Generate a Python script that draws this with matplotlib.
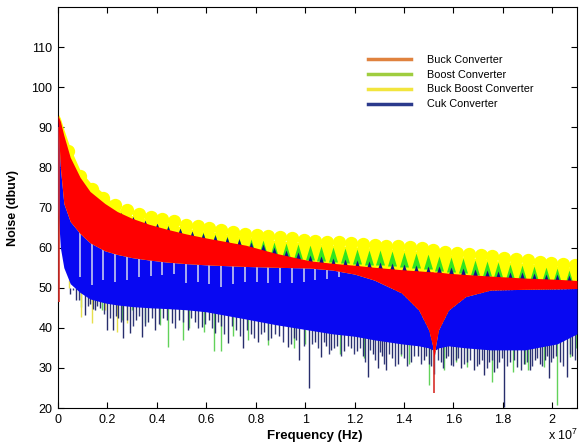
"""
Espectro de ruido conduzido dos quatro conversores (Buck, Boost, Buck-Boost, Cuk).
Gera out.png.
"""
import numpy as np
import matplotlib
matplotlib.use("Agg")
import matplotlib.pyplot as plt
from matplotlib.lines import Line2D

plt.rcParams["font.family"] = ["Liberation Sans", "DejaVu Sans"]
plt.rcParams["mathtext.default"] = "regular"

# --- envelopes (frequencia em MHz, nivel em dBuV) ---
ENV_MHZ = [0, 0.1, 0.24, 0.5, 0.9, 1.3, 1.9, 2.4, 3.0, 3.7, 4.4, 5.2, 6.0, 7.6, 8.8,
           10.2, 11.1, 12.0, 12.8, 13.9, 14.6, 15.0, 15.16, 15.22, 15.28, 15.4, 15.8,
           16.5, 17.5, 18.9, 20.2, 21.0]
BUCK_TOP = [93.0, 91.5, 88.0, 82.5, 77.5, 74.0, 71.0, 69.0, 67.3, 65.8, 64.6, 63.4, 62.4,
            60.6, 58.6, 56.7, 56.1, 55.6, 55.1, 54.5, 54.2, 54.0, 54.0, 53.9, 53.9, 53.9,
            53.6, 53.3, 52.9, 52.4, 52.1, 51.8]
BUCK_LOW = [92.0, 80.0, 71.0, 66.5, 63.5, 61.2, 59.2, 58.3, 57.5, 56.9, 56.4, 56.0, 55.7,
            55.3, 55.1, 54.9, 54.4, 53.4, 51.9, 48.7, 44.4, 39.5, 35.5, 32.5, 35.5, 39.5,
            44.4, 47.8, 49.4, 49.6, 49.7, 49.8]
CUK_LOW = [70.0, 60.0, 55.0, 51.0, 48.8, 47.2, 46.2, 45.7, 45.3, 45.0, 44.8, 44.5, 44.0,
           42.2, 40.8, 39.4, 38.5, 37.9, 37.0, 36.0, 35.5, 35.0, 34.5, 34.3, 34.5, 35.0,
           35.5, 35.0, 34.5, 34.5, 36.0, 38.5]
BUCKBOOST_BAND = [93.5, 92.3, 89.5, 84.8, 79.3, 76.3, 73.3, 69.8, 68.0, 66.9, 66.2, 64.8,
                  64.1, 62.7, 61.8, 61.0, 60.6, 60.2, 59.9, 59.5, 59.1, 58.8, 58.7, 58.6,
                  58.6, 58.5, 58.2, 57.6, 56.9, 56.1, 55.3, 54.8]

# --- picos harmonicos ---
BUCKBOOST_PEAK_MHZ = [0.41, 0.88, 1.36, 1.84, 2.32, 2.79, 3.27, 3.75, 4.22, 4.70, 5.18,
                      5.65, 6.13, 6.61, 7.09, 7.56, 8.04, 8.52, 8.99, 9.47, 9.95, 10.42,
                      10.90, 11.38, 11.86, 12.33, 12.81, 13.29, 13.76, 14.24, 14.72, 15.19,
                      15.67, 16.15, 16.63, 17.10, 17.58, 18.06, 18.53, 19.01, 19.49, 19.96,
                      20.44, 20.92]
BUCKBOOST_PEAK_DB = [84.0, 77.8, 74.6, 72.3, 70.6, 69.3, 68.3, 67.7, 67.2, 66.6, 65.6,
                     65.3, 64.9, 64.4, 63.8, 63.5, 63.2, 62.9, 62.6, 62.3, 62.0, 61.7,
                     61.5, 61.3, 61.1, 60.9, 60.7, 60.5, 60.3, 60.1, 59.9, 59.3, 59.0,
                     58.7, 58.4, 58.1, 57.8, 57.5, 57.1, 56.8, 56.5, 56.2, 55.9, 55.6]
VALLEY_MHZ = [0.65, 1.12, 1.60, 2.08, 2.55, 3.03, 3.51, 3.99, 4.46, 4.94, 5.42, 5.89,
              6.37, 6.85, 7.32, 7.80, 8.28, 8.75, 9.23, 9.71, 10.19, 10.66, 11.14, 11.62,
              12.10, 12.57, 13.05, 13.52, 14.00, 14.48, 14.96, 15.43, 15.91, 16.39, 16.87,
              17.34, 17.82, 18.29, 18.77, 19.25, 19.73, 20.20, 20.68]
BOOST_PEAK_DB = [79.5, 74.5, 71.7, 69.9, 68.6, 67.5, 66.7, 66.2, 65.6, 64.8, 64.2, 63.8,
                 63.4, 62.8, 62.4, 62.1, 61.8, 61.5, 61.2, 60.9, 60.6, 60.3, 60.1, 59.9,
                 59.7, 59.5, 59.3, 59.1, 58.9, 58.7, 58.3, 57.9, 57.6, 57.3, 57.0, 56.7,
                 56.4, 56.0, 55.7, 55.4, 55.1, 54.8, 54.5]
CUK_PEAK_DB = [79.0, 74.5, 71.5, 69.8, 68.8, 67.9, 67.0, 66.2, 65.5, 64.8, 64.2, 63.6,
               63.1, 62.6, 62.1, 61.5, 60.9, 60.1, 59.4, 58.8, 58.1, 57.8, 57.5, 57.2,
               57.0, 56.7, 56.4, 56.1, 55.9, 55.7, 55.5, 55.3, 55.1, 54.9, 54.6, 54.4,
               54.2, 54.0, 53.8, 53.6, 53.4, 53.3, 53.1]

# vales do Cuk logo abaixo da faixa do Buck
GAP_MHZ = [0.88, 1.36, 1.84, 2.32, 2.79, 3.27, 3.75, 4.22, 4.70, 5.18, 5.65, 6.13, 6.61,
           7.09, 7.56, 8.04, 8.52, 8.99, 9.47, 9.95, 10.42, 10.90, 11.38]
GAP_LOW_DB = [52.7, 50.8, 51.9, 51.5, 52.0, 52.7, 53.0, 53.2, 53.5, 51.1, 51.5, 51.0,
              50.2, 51.0, 51.5, 51.5, 51.2, 51.1, 51.1, 51.5, 51.9, 52.2, 52.6]

# --- quedas estreitas (minimos) de cada conversor ---
CUK_DIP_MHZ = [0.49, 0.72, 1.10, 1.30, 1.50, 1.70, 1.98, 2.24, 2.45, 2.65, 2.92, 3.15,
               3.39, 3.65, 3.93, 4.25, 4.60, 4.90, 5.27, 5.55, 5.81, 6.10, 6.35, 6.60,
               6.88, 7.20, 7.49, 7.80, 8.09, 8.35, 8.63, 8.95, 9.30, 9.55, 9.77, 10.14,
               10.40, 10.65, 10.85, 11.05, 11.30, 11.59, 11.85, 12.12, 12.33, 12.53, 12.75,
               12.93, 13.10, 13.27, 13.50, 13.74, 14.00, 14.27, 14.55, 14.81, 15.00, 15.22,
               15.50, 15.70, 15.89, 16.10, 16.29, 16.55, 16.83, 17.05, 17.23, 17.45, 17.64,
               17.85, 18.04, 18.30, 18.58, 18.85, 19.11, 19.30, 19.51, 19.70, 19.85, 20.05,
               20.30, 20.59, 20.80]
CUK_DIP_DB = [48.5, 47.0, 43.2, 46.0, 44.4, 45.0, 39.5, 39.5, 42.5, 37.4, 38.6, 42.0,
              37.8, 41.5, 39.5, 42.5, 41.1, 42.0, 39.5, 41.5, 40.3, 42.0, 38.6, 40.5,
              36.1, 39.5, 34.9, 38.5, 36.5, 39.0, 37.4, 38.0, 35.3, 37.5, 32.0, 24.9,
              36.5, 32.8, 35.5, 34.5, 35.5, 34.1, 35.0, 34.1, 33.0, 27.8, 33.5, 29.9,
              33.0, 29.5, 32.5, 31.1, 32.5, 31.5, 33.0, 32.0, 31.0, 28.6, 31.5, 32.5,
              30.7, 32.0, 29.9, 31.5, 29.5, 31.0, 28.2, 31.5, 29.1, 31.5, 20.3, 31.5,
              30.3, 31.0, 29.5, 32.0, 31.1, 32.0, 27.4, 32.5, 31.5, 27.8, 33.0]
# quedas menores que deixam a borda inferior do Cuk serrilhada
CUK_MINOR_MHZ = [0.60, 0.85, 1.20, 1.40, 1.60, 1.85, 2.10, 2.35, 2.55, 2.80, 3.05, 3.27,
                 3.52, 3.80, 4.08, 4.40, 4.75, 5.08, 5.40, 5.68, 5.95, 6.22, 6.48, 6.74,
                 7.05, 7.35, 7.65, 7.95, 8.22, 8.50, 8.80, 9.12, 9.42, 9.65, 9.95, 10.27,
                 10.52, 10.75, 10.95, 11.18, 11.45, 11.72, 11.98, 12.22, 12.43, 12.64,
                 12.84, 13.02, 13.18, 13.38, 13.62, 13.87, 14.13, 14.40, 14.68, 14.90,
                 15.11, 15.36, 15.60, 15.80, 16.00, 16.20, 16.42, 16.68, 16.95, 17.14,
                 17.34, 17.55, 17.75, 17.95, 18.17, 18.44, 18.72, 18.98, 19.20, 19.40,
                 19.60, 19.78, 19.95, 20.17, 20.45, 20.70, 20.92]
CUK_MINOR_DB = [49.5, 47.0, 45.5, 44.8, 45.5, 43.5, 42.5, 43.0, 41.5, 42.0, 40.5, 43.0,
                40.5, 42.5, 41.0, 42.0, 40.0, 41.5, 42.5, 40.0, 41.0, 40.0, 41.5, 38.5,
                40.5, 38.0, 39.5, 37.5, 38.5, 37.0, 38.5, 36.5, 36.0, 37.0, 35.5, 36.0,
                35.0, 36.5, 33.5, 35.0, 33.0, 35.5, 33.5, 35.0, 31.5, 34.5, 32.0, 34.0,
                31.0, 33.5, 30.5, 33.5, 30.5, 33.0, 31.0, 33.0, 30.5, 32.0, 30.0, 33.0,
                30.5, 32.5, 31.0, 32.0, 30.5, 32.0, 30.0, 32.0, 30.0, 32.5, 30.5, 32.0,
                29.5, 31.5, 30.5, 32.5, 30.5, 33.0, 31.5, 33.0, 30.5, 33.5, 32.0]
BOOST_DIP_MHZ = [0.95, 1.77, 2.60, 3.00, 3.52, 4.13, 4.46, 5.07, 5.30, 5.90, 6.30, 6.61,
                 7.10, 7.70, 8.49, 9.57, 10.00, 11.40, 12.40, 13.90, 14.20, 15.02, 15.62,
                 16.10, 16.56, 17.57, 18.40, 18.90, 19.00, 19.65, 20.19, 20.72, 20.95]
BOOST_DIP_DB = [45.3, 44.4, 42.0, 44.5, 41.1, 40.7, 35.3, 37.0, 40.0, 39.0, 34.1, 34.1,
                38.0, 37.0, 35.7, 34.9, 36.0, 33.5, 32.5, 33.0, 31.0, 25.7, 29.5,
                31.5, 30.3, 26.6, 29.0, 31.0, 29.5, 30.3, 20.7, 32.8, 35.0]
BUCKBOOST_DIP_MHZ = [0.44, 0.92, 1.39, 1.92, 2.40, 2.80]
BUCKBOOST_DIP_DB = [51.9, 42.8, 41.2, 44.4, 39.0, 41.2]
BUCK_DIP_MHZ = [0.03, 15.22]
BUCK_DIP_DB = [46.5, 23.7]
BUCK_DIP_TOP = [90.0, 40.0]

# --- eixos e legenda ---
X_TICKS = [0, 0.2, 0.4, 0.6, 0.8, 1.0, 1.2, 1.4, 1.6, 1.8, 2.0]   # x 10^7 Hz
X_TICK_LABELS = ["0", "0.2", "0.4", "0.6", "0.8", "1", "1.2", "1.4", "1.6", "1.8", "2"]
Y_TICKS = [20, 30, 40, 50, 60, 70, 80, 90, 100, 110]
LEGEND_NAMES = ["Buck Converter", "Boost Converter", "Buck Boost Converter", "Cuk Converter"]
LEGEND_COLORS = ["#e0823e", "#9fcd3f", "#f2e53d", "#2b3a8c"]

RED = "#ff0000"
BLUE = "#0808f2"
GREEN = "#30e61e"
YELLOW = "#ffff00"
NAVY = "#272d6c"


def hz(mhz):
    return np.asarray(mhz) * 1e6


# triangulos com a ponta na origem (picos estreitos)
TRI_WIDE = [(-0.3, -1.0), (0.3, -1.0), (0.0, 0.0), (-0.3, -1.0)]
TRI_THIN = [(-0.35, -1.0), (0.35, -1.0), (0.0, 0.0), (-0.35, -1.0)]

fig = plt.figure(figsize=(5.79, 4.45), dpi=100)
ax = fig.add_axes([0.1, 0.0831, 0.8965, 0.9012])

# quedas (atras dos corpos preenchidos)
ax.vlines(hz(BOOST_DIP_MHZ), BOOST_DIP_DB, 50, colors="#62d25a", lw=1.0, zorder=1.0)
ax.vlines(hz(BUCKBOOST_DIP_MHZ), BUCKBOOST_DIP_DB, 50, colors="#e6df4c", lw=1.0, zorder=1.05)
ax.vlines(hz(CUK_MINOR_MHZ), CUK_MINOR_DB, 50, colors="#333a7a", lw=1.0, zorder=1.08)
ax.vlines(hz(CUK_DIP_MHZ), CUK_DIP_DB, 50, colors=NAVY, lw=1.0, zorder=1.1)

# Buck Boost / Boost / Cuk no topo
ax.fill_between(hz(ENV_MHZ), BUCK_LOW, BUCKBOOST_BAND, color=YELLOW, lw=0, zorder=2.0)
ax.scatter(hz(VALLEY_MHZ), BOOST_PEAK_DB, marker=TRI_WIDE, s=466, color=GREEN,
           linewidths=0, zorder=2.1)
ax.scatter(hz(VALLEY_MHZ), CUK_PEAK_DB, marker=TRI_THIN, s=132, color="#10108a",
           linewidths=0, zorder=2.2)
ax.scatter(hz(BUCKBOOST_PEAK_MHZ), BUCKBOOST_PEAK_DB, marker="o", s=92, color=YELLOW,
           linewidths=0, zorder=2.3)

# corpo do Cuk e vales claros dentro dele
cuk_body = ax.fill_between(hz(ENV_MHZ), CUK_LOW, BUCK_LOW, color=BLUE, lw=0, zorder=3.0)
gaps = ax.vlines(hz(GAP_MHZ), GAP_LOW_DB, 90, colors="#d4d8f0", lw=1.1, zorder=3.1)
gaps.set_clip_path(cuk_body.get_paths()[0], ax.transData)

# Buck por cima
ax.vlines(hz(BUCK_DIP_MHZ), BUCK_DIP_DB, BUCK_DIP_TOP, colors="#d8302a", lw=1.2, zorder=3.5)
ax.fill_between(hz(ENV_MHZ), BUCK_LOW, BUCK_TOP, color=RED, lw=0, zorder=4.0)

ax.set_xlim(0, 2.1e7)
ax.set_ylim(20, 120)
ax.set_xticks(np.array(X_TICKS) * 1e7)
ax.set_xticklabels(X_TICK_LABELS)
ax.set_yticks(Y_TICKS)
ax.tick_params(direction="in", length=4, width=0.8, top=True, right=True,
               labelsize=9, pad=4)
for sp in ax.spines.values():
    sp.set_linewidth(0.8)

ax.set_xlabel("Frequency (Hz)", fontsize=9.5, fontweight="bold")
ax.xaxis.set_label_coords(0.495, -0.055)
ax.set_ylabel("Noise (dbuv)", fontsize=9, fontweight="bold")
ax.yaxis.set_label_coords(-0.075, 0.5)
fig.text(0.9985, 0.004, "x 10$^7$", ha="right", va="bottom", fontsize=9)

handles = [Line2D([], [], color=c, lw=2.5) for c in LEGEND_COLORS]
ax.legend(handles, LEGEND_NAMES, loc="upper left", bbox_to_anchor=(0.597, 0.881),
          frameon=False, fontsize=7.8, handlelength=4.0, handletextpad=1.45,
          labelspacing=0.45, borderpad=0, borderaxespad=0)

fig.savefig("out.png", dpi=100)
